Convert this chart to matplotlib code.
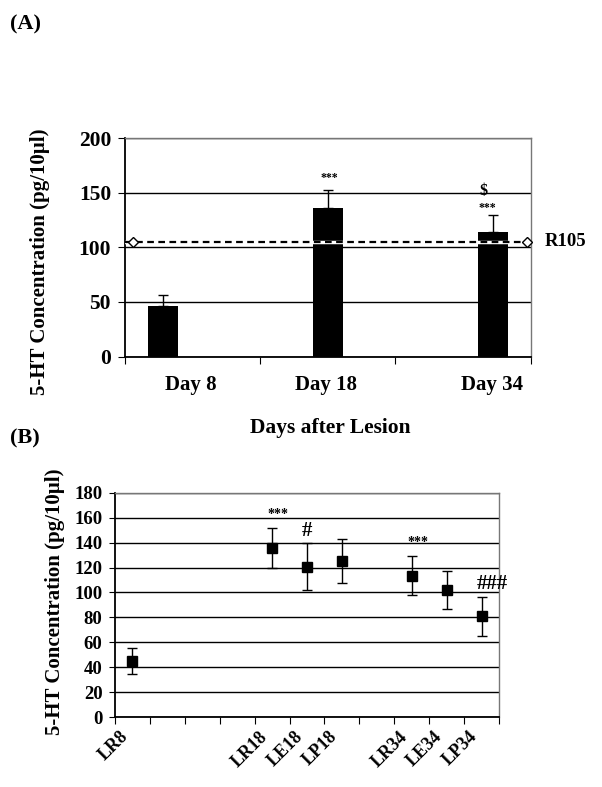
import numpy as np
import matplotlib
matplotlib.use("Agg")
import matplotlib.pyplot as plt
from matplotlib.transforms import ScaledTranslation

plt.rcParams['font.family'] = ['Liberation Serif', 'DejaVu Serif']
plt.rcParams['font.weight'] = 'bold'

# panel A data
days = ['Day 8', 'Day 18', 'Day 34']
means_a = [46, 136, 114]
err_a = [10.5, 17, 16]
stars_a = ['', '***', '***']
dollar_a = ['', '', '$']
ref_value = 105
ref_label = 'R105'

# panel B data
groups_b = ['LR8', 'LR18', 'LE18', 'LP18', 'LR34', 'LE34', 'LP34']
means_b = [45, 135.7, 120.8, 125.2, 113.6, 101.7, 80.9]
err_b = [10.5, 16.3, 18.8, 17.5, 16, 15.3, 15.6]
marks_b = ['', '***', '#', '', '***', '', '###']

fig = plt.figure(figsize=(6.02, 7.87), dpi=100)

# ---------- (A) ----------
ax = fig.add_axes([0.2076, 0.547, 0.674, 0.2773])
bar_x = [0.28, 1.5, 2.72]
lab_x = [0.49, 1.485, 2.71]
ax.bar(bar_x, means_a, width=0.22, color='black', zorder=3)
ax.errorbar(bar_x, means_a, yerr=[np.zeros(3), err_a], fmt='none',
            ecolor='black', elinewidth=1, capsize=3.5, capthick=1, zorder=4)
ax.set_xlim(0, 3)
ax.set_ylim(0, 200)
ax.set_yticks([0, 50, 100, 150, 200])
ax.grid(axis='y', color='black', lw=1, zorder=1)
ax.set_xticks([0, 1, 2, 3])
ax.set_xticklabels([])
ax.tick_params(axis='x', which='major', direction='out', length=5)
ax.set_xticks(lab_x, minor=True)
ax.set_xticklabels(days, minor=True, fontsize=15, fontweight='bold')
ax.tick_params(axis='x', which='minor', length=0, pad=13)
ax.tick_params(axis='y', direction='out', length=5, labelsize=15.5, pad=5)
for t in ax.get_yticklabels():
    t.set_fontweight('bold')
ax.set_ylabel('5-HT Concentration (pg/10µl)', fontsize=15, fontweight='bold')
ax.yaxis.set_label_coords(-0.185, 0.433)
ax.set_xlabel('Days after Lesion', fontsize=15.5, fontweight='bold')
ax.xaxis.set_label_coords(0.507, -0.282)
for s in ['left', 'bottom']:
    ax.spines[s].set_linewidth(1.3)
for s in ['top', 'right']:
    ax.spines[s].set_color('#777777')
    ax.spines[s].set_linewidth(1)

# reference line
ax.plot([0, 3], [ref_value, ref_value], color='white', lw=2.5, zorder=5)
ax.plot([0, 3], [ref_value, ref_value], color='black', lw=1.6,
        ls=(0, (3, 2)), zorder=6)
ax.plot([0.06, 2.97], [ref_value, ref_value], ls='none', marker='D', ms=5,
        mfc='white', mec='black', mew=1, zorder=7, clip_on=False)
ax.text(3.1, ref_value, ref_label, fontsize=13.5, fontweight='bold', va='center')

for x, m, e, s, d in zip(bar_x, means_a, err_a, stars_a, dollar_a):
    if s:
        ax.text(x - 0.04 if d else x + 0.01, m + e + (3 if d else 8), s,
                ha='center', va='baseline', fontsize=8.5, fontweight='bold')
    if d:
        ax.text(x - 0.07, m + e + 18, d, ha='center', va='baseline',
                fontsize=11.5, fontweight='bold')

fig.text(0.017, 0.962, '(A)', fontsize=16, fontweight='bold')

# ---------- (B) ----------
bx = fig.add_axes([0.191, 0.0886, 0.638, 0.2854])
slots = [0, 4, 5, 6, 8, 9, 10]
pos = [s + 0.5 for s in slots]
bx.errorbar(pos, means_b, yerr=err_b, fmt='s', color='black', ms=7.5,
            ecolor='black', elinewidth=1, capsize=3.5, capthick=1, zorder=4)
bx.set_xlim(0, 11)
bx.set_ylim(0, 180)
bx.set_yticks(np.arange(0, 181, 20))
bx.grid(axis='y', color='black', lw=1, zorder=1)
bx.set_xticks(np.arange(0, 12))
bx.set_xticklabels([])
bx.tick_params(axis='x', which='major', direction='out', length=5)
bx.set_xticks(pos, minor=True)
bx.set_xticklabels(groups_b, minor=True, rotation=45, ha='right', va='center',
                   rotation_mode='anchor', fontsize=13, fontweight='bold')
bx.tick_params(axis='x', which='minor', length=0, pad=12)
shift = ScaledTranslation(-7 / 100, 0, fig.dpi_scale_trans)
for lbl in bx.get_xticklabels(minor=True):
    lbl.set_transform(lbl.get_transform() + shift)
bx.tick_params(axis='y', direction='out', length=4, labelsize=13.5, pad=5)
for t in bx.get_yticklabels():
    t.set_fontweight('bold')
bx.set_ylabel('5-HT Concentration (pg/10µl)', fontsize=15, fontweight='bold')
bx.yaxis.set_label_coords(-0.13, 0.516)
for s in ['left', 'bottom']:
    bx.spines[s].set_linewidth(1.3)
for s in ['top', 'right']:
    bx.spines[s].set_color('#777777')
    bx.spines[s].set_linewidth(1)

offs = {'***': 0.17, '#': 0.0, '###': 0.3}
for x, m, e, t in zip(pos, means_b, err_b, marks_b):
    if t == '***':
        bx.text(x + offs[t], m + e + 5, t, ha='center', va='bottom', fontsize=10, fontweight='bold')
    elif t:
        bx.text(x + offs[t], m + e + 2, t, ha='center', va='bottom', fontsize=15, fontweight='bold')

fig.text(0.017, 0.437, '(B)', fontsize=16, fontweight='bold')

fig.savefig('out.png', dpi=100)
